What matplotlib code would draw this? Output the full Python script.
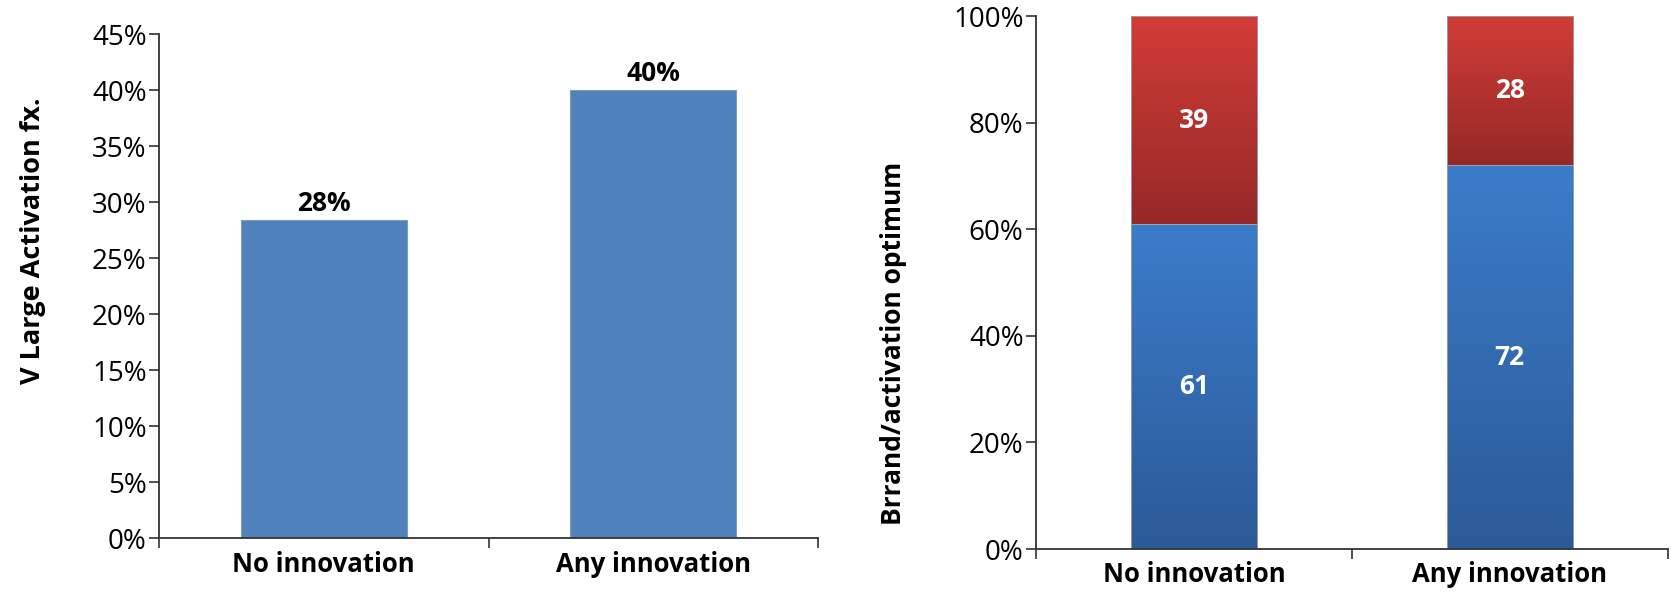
import numpy as np
import matplotlib
matplotlib.use("Agg")
import matplotlib.pyplot as plt
from matplotlib.colors import LinearSegmentedColormap

plt.rcParams['font.family'] = ['Open Sans', 'DejaVu Sans']

categories = ["No innovation", "Any innovation"]
large_activation = [28.4, 40.0]
brand_share = [61, 72]
activation_share = [39, 28]

left_ticks = list(range(0, 50, 5))
right_ticks = list(range(0, 120, 20))

fig = plt.figure(figsize=(16.71, 6.0), dpi=100)
ax1 = fig.add_axes([0.0952, 0.1033, 0.3943, 0.84])
ax2 = fig.add_axes([0.62, 0.085, 0.378, 0.888])


def style_axes(ax, ticks):
    ax.spines['top'].set_visible(False)
    ax.spines['right'].set_visible(False)
    for s in ('left', 'bottom'):
        ax.spines[s].set_color('#333333')
        ax.spines[s].set_linewidth(1.3)
    ax.set_yticks(ticks)
    ax.set_yticklabels([f"{t}%" for t in ticks], fontsize=20)
    ax.tick_params(axis='y', length=7, width=1.2, color='#333333', pad=2)
    # category ticks sit between the bars
    ax.set_xticks([-0.5, 0.5, 1.5])
    ax.set_xticklabels([])
    ax.set_xticks([0, 1], minor=True)
    ax.set_xticklabels(categories, minor=True, fontsize=18.5, fontweight='bold')
    ax.tick_params(axis='x', which='major', length=7, width=1.2, color='#333333')
    ax.tick_params(axis='x', which='minor', length=0, pad=9)
    ax.set_xlim(-0.5, 1.5)


# left: simple bars
x = np.arange(len(categories))
bars = ax1.bar(x, large_activation, width=0.505, color='#4f81bd', edgecolor='#7a9cc4', linewidth=0.8)
for b, v in zip(bars, large_activation):
    ax1.text(b.get_x() + b.get_width() / 2, v + 0.3, f"{v:.0f}%", ha='center', va='bottom',
             fontsize=19, fontweight='bold')
ax1.set_ylim(0, 45)
style_axes(ax1, left_ticks)
ax1.set_ylabel("V Large Activation fx.", fontsize=19.5, fontweight='bold')
ax1.yaxis.set_label_coords(-0.171, 0.589)

# right: 100% stacked bars with vertical gradients
blue_cmap = LinearSegmentedColormap.from_list('bl', ['#2c5a97', '#3b7cc9'])
red_cmap = LinearSegmentedColormap.from_list('rd', ['#952927', '#d23c37'])
grad = np.linspace(0, 1, 256).reshape(-1, 1)

w = 0.4
low = ax2.bar(x, brand_share, width=w, color='none', edgecolor='none')
high = ax2.bar(x, activation_share, width=w, bottom=brand_share, color='none', edgecolor='none')
for group, cmap in ((low, blue_cmap), (high, red_cmap)):
    for b in group:
        x0, y0 = b.get_x(), b.get_y()
        im = ax2.imshow(grad, cmap=cmap, origin='lower', aspect='auto',
                        extent=(x0, x0 + b.get_width(), y0, y0 + b.get_height()), zorder=1)
        im.set_clip_path(b)
        ax2.add_patch(plt.Rectangle((x0, y0), b.get_width(), b.get_height(), fill=False,
                                    edgecolor='#9aa6b4', linewidth=0.6, zorder=2))

for i in range(len(categories)):
    ax2.text(x[i], brand_share[i] / 2, f"{brand_share[i]}", ha='center', va='center',
             color='white', fontsize=19, fontweight='bold', zorder=3)
    ax2.text(x[i], brand_share[i] + activation_share[i] / 2, f"{activation_share[i]}",
             ha='center', va='center', color='white', fontsize=19, fontweight='bold', zorder=3)

ax2.set_ylim(0, 100)
style_axes(ax2, right_ticks)
ax2.set_ylabel("Brrand/activation optimum", fontsize=19, fontweight='bold')
ax2.yaxis.set_label_coords(-0.204, 0.385)

fig.savefig("out.png", dpi=100)
